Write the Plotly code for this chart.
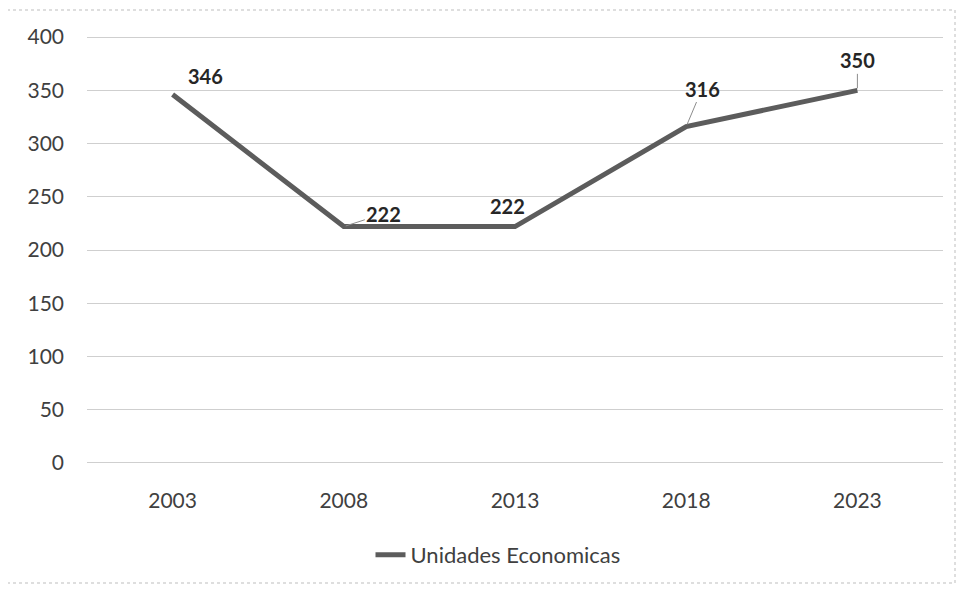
import plotly.graph_objects as go

years = ["2003", "2008", "2013", "2018", "2023"]
unidades = [346, 222, 222, 316, 350]
series_name = "Unidades Economicas"
y_ticks = [0, 50, 100, 150, 200, 250, 300, 350, 400]

# page has an 8px body margin; figure is sized so it fits the 965x595 window
OFF = 8
W, H = 965 - OFF, 595 - OFF
ML, MT = 87 - OFF, 35 - OFF
PW, PH = 856, 430
MR, MB = W - ML - PW, H - MT - PH
FONT = "Lato"

fig = go.Figure()
fig.add_trace(go.Scatter(
    x=years, y=unidades, mode="lines", name=series_name,
    line=dict(color="#5c5c5c", width=5),
))

# data labels (offsets in pixels, leader flag)
label_style = [(33, -19, False), (40, -13, True), (-8, -21, False), (16, -38, True), (0, -30, True)]
for i, (yv, (dx, dy, lead)) in enumerate(zip(unidades, label_style)):
    if lead:
        fig.add_annotation(x=i, y=yv, text=f"<b>{yv}</b>", showarrow=True,
                           ax=dx, ay=dy, arrowhead=0, arrowwidth=1, arrowcolor="#8c8c8c",
                           standoff=2, font=dict(family=FONT, size=20, color="#262626"))
    else:
        fig.add_annotation(x=i, y=yv, text=f"<b>{yv}</b>", showarrow=False,
                           xshift=dx, yshift=-dy, font=dict(family=FONT, size=20, color="#262626"))

def px_x(p):
    return (p - OFF - ML) / PW

def px_y(p):
    return (MT + PH - (p - OFF)) / PH

fig.add_shape(type="rect", xref="paper", yref="paper",
              x0=px_x(7), x1=px_x(955), y0=px_y(583), y1=px_y(10),
              line=dict(color="#bdbdbd", width=1, dash="dot"), fillcolor="rgba(0,0,0,0)")

fig.update_layout(
    width=W, height=H,
    margin=dict(l=ML, r=MR, t=MT, b=MB),
    paper_bgcolor="white", plot_bgcolor="white",
    font=dict(family=FONT, size=21, color="#404040"),
    showlegend=True,
    legend=dict(orientation="h", x=px_x(498), xanchor="center", y=px_y(555), yanchor="middle",
                font=dict(family=FONT, size=22, color="#404040"), bgcolor="rgba(0,0,0,0)"),
    xaxis=dict(type="category", range=[-0.5, 4.5], showgrid=False, zeroline=False,
               showline=False, ticks="", ticklabelstandoff=21, fixedrange=True),
    yaxis=dict(range=[-2, 402], tickvals=y_ticks, showgrid=True, gridcolor="#cfcfcf", gridwidth=1,
               zeroline=False, showline=False, ticks="", ticklabelstandoff=22, fixedrange=True),
)

fig.write_html("out.html")
